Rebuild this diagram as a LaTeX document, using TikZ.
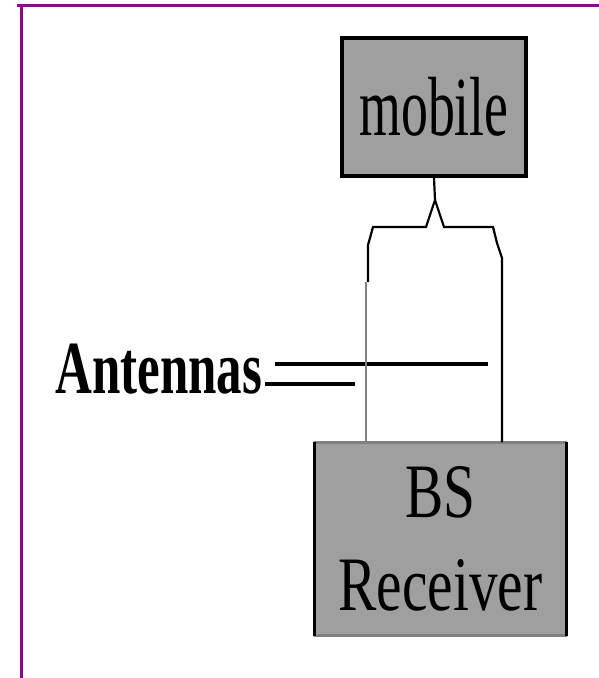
\documentclass[tikz,border=0pt]{standalone}
\usepackage{fontspec}
\setmainfont{Liberation Serif}
\newfontfamily\mobileserif[FakeStretch=0.64]{Liberation Serif}
\newfontfamily\narrowserif[FakeStretch=0.68]{Liberation Serif}
\newfontfamily\bsserif[FakeStretch=0.745]{Liberation Serif}
\usetikzlibrary{calc}
\definecolor{framepurple}{HTML}{8A0A8A}
\definecolor{boxgray}{HTML}{9F9F9F}
\definecolor{rimgray}{HTML}{808080}

\begin{document}
\begin{tikzpicture}[
  x=1pt, y=-1pt,
  unitbox/.style={rectangle, fill=boxgray, inner sep=0pt},
  feedline/.style={draw=black, line width=2.2pt},
  thinline/.style={draw=rimgray, line width=1.3pt},
  antline/.style={draw=black, line width=4pt},
  framerule/.style={draw=framepurple, line width=3pt}
]
  \useasboundingbox (0,0) rectangle (599,678);
  % page frame
  \draw[framerule] (17,5.5) -- (599,5.5);
  \draw[framerule] (21,4) -- (21,678);

  \node[unitbox, draw=black, line width=4pt, minimum width=184pt, minimum height=138pt,
        font=\mobileserif\fontsize{84}{84}\selectfont] (mobile) at (434,107) {mobile};

  \node[unitbox, minimum width=252pt, minimum height=193pt, align=center,
        font=\bsserif\fontsize{77}{93}\selectfont] (bs) at (440.5,539) {BS\\Receiver};
  \draw[draw=rimgray, line width=3pt] (bs.north west) -- (bs.north east) (bs.south west) -- (bs.south east);
  \draw[draw=black, line width=3pt] (bs.north west) -- (bs.south west) (bs.north east) -- (bs.south east);

  \coordinate (fork) at (435,200);
  \coordinate (leftant) at (368,282);
  \coordinate (rightant) at (502,258);

  % feed from the mobile to both antennas
  \draw[feedline] (mobile.south) -- (fork) -- (426,227) -- (373,227) -- (368,245) -- (leftant);
  \draw[feedline] (fork) -- (444,227) -- (493,227) -- (497,243) -- (rightant) -- (rightant |- bs.north);

  \node[anchor=base west, inner sep=0pt, font=\narrowserif\bfseries\fontsize{75}{75}\selectfont] (antlabel) at (55,393) {Antennas};
  \coordinate (tipA) at (488,364);
  \coordinate (tipB) at (355,384);
  \draw[antline] ([xshift=13pt]antlabel.east |- tipA) -- (tipA);
  \draw[antline] ([xshift=3pt]antlabel.east |- tipB) -- (tipB);

  \draw[thinline] ([xshift=-2pt]leftant) -- ([xshift=-2pt]leftant |- bs.north);
\end{tikzpicture}
\end{document}
